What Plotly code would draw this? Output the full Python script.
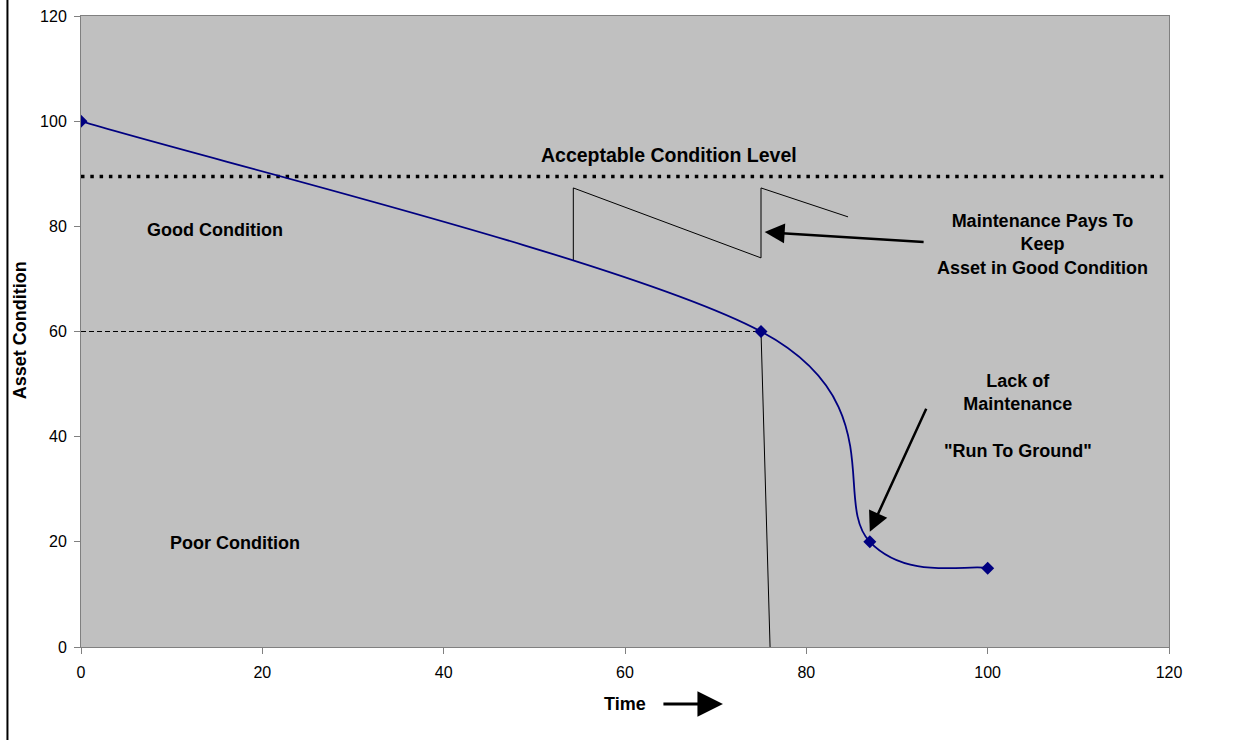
import plotly.graph_objects as go

# Asset condition over time (key points of the smoothed curve)
time_pts = [0, 75, 87, 100]
condition_pts = [100, 60, 20, 15]

# Maintenance sawtooth profile
saw_x = [54.3, 54.3, 75, 75, 84.6]
saw_y = [73.6, 87.3, 74.0, 87.3, 81.8]

acceptable_level = 89.5
threshold_time = 75
threshold_level = 60
failure_time = 76

x_ticks = [0, 20, 40, 60, 80, 100, 120]
y_ticks = [0, 20, 40, 60, 80, 100, 120]

FONT = "Liberation Sans, Arial, sans-serif"
NAVY = "#000080"


def smooth_path(xs, ys):
    """Cubic Bezier path through the points (Catmull-Rom style tangents,
    the same smoothing spreadsheet charts use for 'smoothed line')."""
    pts = list(zip(xs, ys))
    n = len(pts)
    d = f"M {pts[0][0]},{pts[0][1]}"
    for i in range(n - 1):
        p0 = pts[i - 1] if i > 0 else pts[i]
        p1 = pts[i]
        p2 = pts[i + 1]
        p3 = pts[i + 2] if i + 2 < n else pts[i + 1]
        c1 = (p1[0] + (p2[0] - p0[0]) / 6, p1[1] + (p2[1] - p0[1]) / 6)
        c2 = (p2[0] - (p3[0] - p1[0]) / 6, p2[1] - (p3[1] - p1[1]) / 6)
        d += f" C {c1[0]},{c1[1]} {c2[0]},{c2[1]} {p2[0]},{p2[1]}"
    return d


fig = go.Figure()

# Acceptable condition level (dotted)
fig.add_trace(go.Scatter(
    x=[0, 120], y=[acceptable_level, acceptable_level], mode="lines",
    line=dict(color="black", width=3.5, dash="3.5px,5.8px"), hoverinfo="skip"))

# Threshold guide lines
fig.add_trace(go.Scatter(
    x=[0, threshold_time], y=[threshold_level, threshold_level], mode="lines",
    line=dict(color="black", width=1, dash="5px,3px"), hoverinfo="skip"))
fig.add_trace(go.Scatter(
    x=[threshold_time, failure_time], y=[threshold_level, 0], mode="lines",
    line=dict(color="black", width=1), hoverinfo="skip"))

# Sawtooth maintenance profile
fig.add_trace(go.Scatter(
    x=saw_x, y=saw_y, mode="lines",
    line=dict(color="black", width=1), hoverinfo="skip"))

# Smoothed condition curve
fig.add_shape(type="path", xref="x", yref="y", path=smooth_path(time_pts, condition_pts),
              line=dict(color=NAVY, width=1.8), layer="above")

# Condition markers
fig.add_trace(go.Scatter(
    x=time_pts, y=condition_pts, mode="markers",
    marker=dict(symbol="diamond", size=10, color=NAVY)))

text_font = dict(family=FONT, size=18, color="black")
annotations = [
    dict(x=64.85, y=93.6, text="<b>Acceptable Condition Level</b>",
         font=dict(family=FONT, size=19.5, color="black")),
    dict(x=14.8, y=79.3, text="<b>Good Condition</b>", font=text_font),
    dict(x=17.0, y=19.8, text="<b>Poor Condition</b>", font=text_font),
    dict(x=106.1, y=76.5, text="<b>Maintenance Pays To<br>Keep<br>Asset in Good Condition</b>", font=text_font),
    dict(x=103.3, y=44.0, text="<b>Lack of<br>Maintenance<br><br>\"Run To Ground\"</b>", font=text_font),
]
for a in annotations:
    a.update(xref="x", yref="y", showarrow=False, xanchor="center", yanchor="middle", align="center")

# Arrows
annotations += [
    dict(x=75.4, y=78.9, ax=93.1, ay=77.0, xref="x", yref="y", axref="x", ayref="y",
         text="", showarrow=True, arrowhead=2, arrowsize=1.6, arrowwidth=2.5, arrowcolor="black"),
    dict(x=87.0, y=21.9, ax=93.3, ay=45.6, xref="x", yref="y", axref="x", ayref="y",
         text="", showarrow=True, arrowhead=2, arrowsize=1.6, arrowwidth=2.5, arrowcolor="black"),
    # Axis titles
    dict(x=0.5, y=-0.0903, xref="paper", yref="paper", text="<b>Time</b>", showarrow=False,
         font=text_font, xanchor="center", yanchor="middle"),
    dict(x=0.590, y=-0.0903, xref="paper", yref="paper", ax=-61, ay=0, text="",
         showarrow=True, arrowhead=2, arrowsize=1.7, arrowwidth=3, arrowcolor="black"),
    dict(x=-0.056, y=0.502, xref="paper", yref="paper", text="<b>Asset Condition</b>", showarrow=False,
         textangle=-90, font=text_font, xanchor="center", yanchor="middle"),
]

# Left page rule
fig.add_shape(type="line", xref="paper", yref="paper", x0=-0.0676, x1=-0.0676, y0=-0.3, y1=1.1,
              line=dict(color="black", width=2))

axis_common = dict(
    showgrid=False, zeroline=False, showline=True, linecolor="#808080", linewidth=1,
    mirror=True, ticks="outside", ticklen=6, tickcolor="#808080", automargin=False,
    tickfont=dict(family=FONT, size=16, color="black"),
)
fig.update_xaxes(range=[0, 120], tickvals=x_ticks, ticklabelstandoff=5, **axis_common)
fig.update_yaxes(range=[0, 120], tickvals=y_ticks, ticklabelstandoff=4, **axis_common)

fig.update_layout(
    width=1251, height=740,
    margin=dict(l=81, r=82, t=16, b=93),
    plot_bgcolor="#c0c0c0", paper_bgcolor="white",
    showlegend=False, annotations=annotations,
)

fig.write_html("out.html")
